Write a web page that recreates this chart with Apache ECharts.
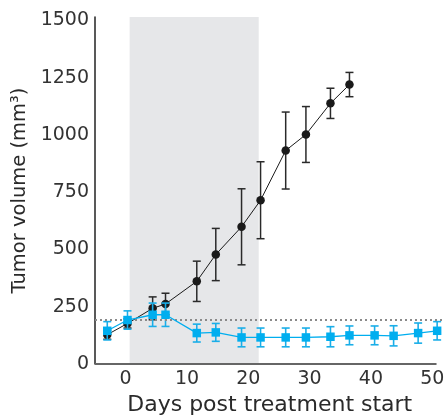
<!DOCTYPE html>
<html lang="en">
<head>
    <meta charset="UTF-8">
    <title>Tumor volume</title>
    <style>
        html, body {
            margin: 0;
            padding: 0;
            background: #fff;
        }
        #J-chart {
            width: 446px;
            height: 415px;
        }
    </style>
</head>
<body>

<div id="J-chart"></div>

<script src="https://cdn.jsdelivr.net/npm/echarts@6/dist/echarts.min.js"></script>
<script>
    // days post treatment start
    var controlDays = [-3, 0.3, 4.4, 6.5, 11.6, 14.7, 18.9, 22, 26.1, 29.4, 33.4, 36.5];
    var controlMean = [128, 177, 243, 262, 361, 478, 599, 715, 932, 1002, 1138, 1220];
    var controlErr = [20, 20, 50, 47, 88, 114, 166, 168, 168, 122, 66, 53];

    var treatedDays = [-3, 0.3, 4.4, 6.5, 11.6, 14.7, 18.9, 22, 26.1, 29.4, 33.4, 36.5, 40.6, 43.7, 47.7, 50.8];
    var treatedMean = [145, 192, 215, 215, 135, 138, 116, 116, 116, 116, 119, 125, 125, 123, 135, 145];
    var treatedErr = [40, 40, 51, 51, 39, 39, 41, 41, 41, 41, 44, 41, 41, 44, 44, 40];

    var baselineVolume = 192;
    var treatmentStart = 0.65;
    var treatmentEnd = 21.7;

    var X_MIN = -5, X_MAX = 52, X_AXIS_END = 50.7;
    var Y_MAX = 1515;

    var BLACK = '#1a1a1a';
    var BLUE = '#00aeef';

    var chart = echarts.init(document.getElementById('J-chart'));

    function pairs(xs, ys) {
        return xs.map(function (x, i) {
            return [x, ys[i]];
        });
    }

    function errData(xs, mean, err) {
        return xs.map(function (x, i) {
            return [x, mean[i] - err[i], mean[i] + err[i]];
        });
    }

    function errorBars(color, width) {
        return function (params, api) {
            var x = api.value(0);
            var top = api.coord([x, api.value(2)]);
            var bottom = api.coord([x, api.value(1)]);
            var w = 4;
            var style = {stroke: color, lineWidth: width};
            return {
                type: 'group',
                children: [
                    {type: 'line', shape: {x1: top[0], y1: top[1], x2: bottom[0], y2: bottom[1]}, style: style},
                    {type: 'line', shape: {x1: top[0] - w, y1: top[1], x2: top[0] + w, y2: top[1]}, style: style},
                    {type: 'line', shape: {x1: bottom[0] - w, y1: bottom[1], x2: bottom[0] + w, y2: bottom[1]}, style: style}
                ]
            };
        };
    }

    var axisFont = {
        fontFamily: 'DejaVu Sans',
        fontSize: 19,
        color: '#333'
    };

    var option = {
        animation: false,
        grid: {
            left: 95,
            right: 1.5,
            top: 17,
            bottom: 51,
            outerBoundsMode: 'none'
        },
        xAxis: {
            type: 'value',
            min: X_MIN,
            max: X_MAX,
            interval: 5,
            name: 'Days post treatment start',
            nameLocation: 'middle',
            nameGap: 28,
            nameTextStyle: {fontFamily: 'DejaVu Sans', fontSize: 22, color: '#2a2a2a'},
            axisLine: {show: false},
            axisTick: {show: false},
            splitLine: {show: false},
            axisLabel: Object.assign({
                margin: 6,
                formatter: function (v) {
                    return (v >= 0 && v <= 50 && v % 10 === 0) ? String(v) : '';
                }
            }, axisFont)
        },
        yAxis: {
            type: 'value',
            min: 0,
            max: Y_MAX,
            interval: 250,
            name: 'Tumor volume (mm³)',
            nameLocation: 'middle',
            nameGap: 62,
            nameTextStyle: {fontFamily: 'DejaVu Sans', fontSize: 19.5, color: '#2a2a2a'},
            axisLine: {show: true, onZero: false, lineStyle: {color: '#222', width: 1.5}},
            axisTick: {show: false},
            splitLine: {show: false},
            axisLabel: Object.assign({
                margin: 6,
                formatter: function (v) {
                    return v % 250 === 0 ? String(v) : '';
                }
            }, axisFont)
        },
        series: [
            {
                type: 'line',
                z: 1,
                data: [],
                markArea: {
                    silent: true,
                    itemStyle: {color: '#e6e7e9'},
                    data: [[{coord: [treatmentStart, 0]}, {coord: [treatmentEnd, Y_MAX]}]]
                },
                markLine: {
                    silent: true,
                    symbol: 'none',
                    label: {show: false},
                    data: [
                        {yAxis: baselineVolume, lineStyle: {color: '#8a8a8a', width: 2, type: [2, 3]}},
                        [
                            {coord: [X_MIN, 0], lineStyle: {color: '#666', width: 2, type: 'solid'}},
                            {coord: [X_AXIS_END, 0], lineStyle: {color: '#666', width: 2, type: 'solid'}}
                        ]
                    ]
                }
            },
            {
                type: 'custom',
                z: 2,
                renderItem: errorBars('#2a2a2a', 1.5),
                encode: {x: 0, y: [1, 2]},
                data: errData(controlDays, controlMean, controlErr)
            },
            {
                type: 'line',
                z: 3,
                symbol: 'circle',
                symbolSize: 8.5,
                lineStyle: {color: BLACK, width: 1},
                itemStyle: {color: BLACK},
                data: pairs(controlDays, controlMean)
            },
            {
                type: 'custom',
                z: 4,
                renderItem: errorBars('#1aaee8', 1.6),
                encode: {x: 0, y: [1, 2]},
                data: errData(treatedDays, treatedMean, treatedErr)
            },
            {
                type: 'line',
                z: 5,
                symbol: 'rect',
                symbolSize: 8.5,
                lineStyle: {color: BLUE, width: 1.3},
                itemStyle: {color: BLUE},
                data: pairs(treatedDays, treatedMean)
            }
        ]
    };

    chart.setOption(option);
</script>
</body>
</html>
